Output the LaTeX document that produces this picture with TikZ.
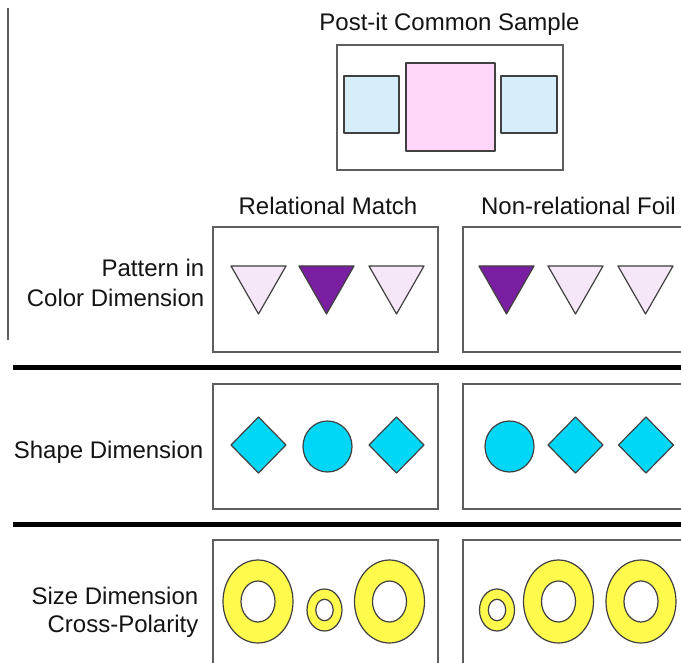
\documentclass[tikz,border=0pt]{standalone}
\usepackage{fontspec}
\setmainfont{Liberation Sans}
\definecolor{txt}{HTML}{141414}
\definecolor{boxline}{HTML}{5E5E5E}
\definecolor{shapeline}{HTML}{404040}
\definecolor{lblue}{HTML}{D5EEFA}
\definecolor{lpink}{HTML}{FFD6F8}
\definecolor{lpurple}{HTML}{F5E6F8}
\definecolor{dpurple}{HTML}{7B1FA2}
\definecolor{cyanfill}{HTML}{00D6F6}
\definecolor{yellowfill}{HTML}{FFFA4C}
\tikzset{
  lbl/.style={inner sep=0pt, text=txt, font=\fontsize{24}{28}\selectfont},
  panel/.style={draw=boxline, line width=1.5pt, fill=white},
  shp/.style={draw=shapeline, line width=1.2pt, line join=round},
  rule/.style={line width=5pt, draw=black},
}
\begin{document}
\begin{tikzpicture}[x=1pt,y=-1pt]
\useasboundingbox (0,0) rectangle (681,663);
\clip (0,0) rectangle (681,663);
\fill[white] (0,0) rectangle (681,663);

% left thin vertical line
\draw[draw=boxline, line width=1.5pt] (8,8) -- (8,340);

% Title and sample
\node[lbl, anchor=base] (title) at (449.5,31) {Post-it Common Sample};
\draw[panel] (337,45) rectangle (563,170);
\draw[shp, fill=lblue] (344,76) rectangle (399,133);
\draw[shp, fill=lpink] (406,63) rectangle (495,151);
\draw[shp, fill=lblue] (501,76) rectangle (557,133);

% Column headings
\node[lbl, anchor=base] (relm) at (328,215) {Relational Match};
\node[lbl, anchor=base] (nrf) at (578.5,215) {Non-relational Foil};

% Row 1 labels
\node[lbl, anchor=base east] (r1a) at (204.5,277) {Pattern in};
\node[lbl, anchor=base east] (r1b) at (204.5,307) {Color Dimension};

% Row 1 panels
\draw[panel] (213,227) rectangle (438,352);
\draw[panel] (463,227) rectangle (700,352);
\foreach \cx/\col in {258.5/lpurple, 326.5/dpurple, 396.5/lpurple, 506.5/dpurple, 575.5/lpurple, 645.5/lpurple}{
  \draw[shp, fill=\col] (\cx-27.5,266) -- (\cx+27.5,266) -- (\cx,314) -- cycle;
}

% Thick rule 1
\draw[rule] (13,368) -- (700,368);

% Row 2
\node[lbl, anchor=base east] (r2) at (203.5,459) {Shape Dimension};
\draw[panel] (213,384) rectangle (438,509);
\draw[panel] (463,384) rectangle (700,509);
\foreach \cx in {258.5, 396.5, 575.5, 646}{
  \draw[shp, fill=cyanfill] (\cx-27.5,445) -- (\cx,417) -- (\cx+27.5,445) -- (\cx,473) -- cycle;
}
\foreach \cx in {327.5, 509.5}{
  \draw[shp, fill=cyanfill] (\cx,446.5) ellipse (24.5 and 25.5);
}

% Thick rule 2
\draw[rule] (13,524) -- (700,524);

% Row 3
\node[lbl, anchor=base east] (r3a) at (198.5,604) {Size Dimension};
\node[lbl, anchor=base east] (r3b) at (198.5,632) {Cross-Polarity};
\draw[panel] (213,540) rectangle (438,700);
\draw[panel] (463,540) rectangle (700,700);
\foreach \cx in {258, 389.5, 558.5, 641}{
  \draw[shp, fill=yellowfill, even odd rule] (\cx,601.5) ellipse (35 and 41.5) (\cx,601.5) ellipse (17 and 20.5);
}
\foreach \cx in {324.5, 497}{
  \draw[shp, fill=yellowfill, even odd rule] (\cx,610) ellipse (17.5 and 21) (\cx,610) ellipse (8.7 and 10.7);
}
\end{tikzpicture}
\end{document}
